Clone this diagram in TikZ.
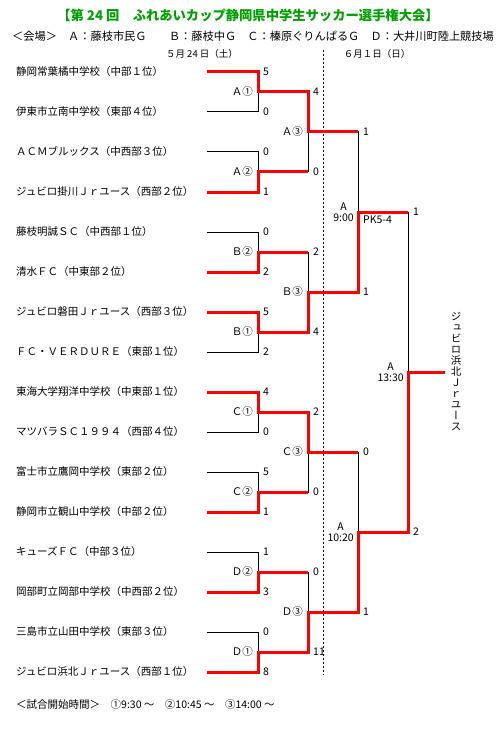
\documentclass[tikz,border=0pt]{standalone}
\usepackage{fontspec}
\setmainfont{Noto Sans CJK JP}
\newfontfamily\jpvert[RawFeature=+vert]{Noto Sans CJK JP}
\usepackage{tikz}
\usetikzlibrary{positioning, calc}
\definecolor{CupGreen}{RGB}{0, 160, 0}
\definecolor{WinRed}{RGB}{255, 0, 0}

\begin{document}
\begin{tikzpicture}[
    x=1pt, y=-1pt,
    every node/.style={font=\fontsize{10.5}{11}\selectfont, inner sep=0pt},
    team/.style={anchor=west},
    match/.style={anchor=east, xshift=-5pt},
    slot/.style={anchor=east, xshift=-4pt, align=center},
    score/.style={anchor=west, xshift=5pt},
    bracket/.style={draw=black, line width=1pt},
    win/.style={draw=WinRed, line width=3pt},
    daysep/.style={draw=black, line width=0.8pt, dash pattern=on 2pt off 2pt}
  ]
    \useasboundingbox (0,0) rectangle (500,730);

    % Header
    \node[font=\fontsize{13.3}{14}\selectfont\bfseries, text=CupGreen] (title) at (248,15) {【第 24 回　ふれあいカップ静岡県中学生サッカー選手権大会】};
    \node[anchor=west, font=\fontsize{11.2}{12}\selectfont] (venue) at (12,36) {＜会場＞　Ａ：藤枝市民Ｇ　　Ｂ：藤枝中Ｇ　Ｃ：榛原ぐりんぱるＧ　Ｄ：大井川町陸上競技場};
    \node[font=\fontsize{9.5}{10}\selectfont] (day1) at (202,54) {５月 24 日（土）};
    \node[font=\fontsize{9.5}{10}\selectfont] (day2) at (377,54) {６月１日（日）};

    % Day separator
    \coordinate (dayTop) at (323,50);
    \coordinate (dayBot) at (323,675);
    \draw[daysep] (dayTop) -- (dayBot);

    % Teams
    \node[team] (t1) at (16,72) {静岡常葉橘中学校（中部１位）};
    \node[team] (t2) at (16,112) {伊東市立南中学校（東部４位）};
    \node[team] (t3) at (16,152) {ＡＣＭブルックス（中西部３位）};
    \node[team] (t4) at (16,192) {ジュビロ掛川Ｊｒユース（西部２位）};
    \node[team] (t5) at (16,232) {藤枝明誠ＳＣ（中西部１位）};
    \node[team] (t6) at (16,272) {清水ＦＣ（中東部２位）};
    \node[team] (t7) at (16,312) {ジュビロ磐田Ｊｒユース（西部３位）};
    \node[team] (t8) at (16,352) {ＦＣ・ＶＥＲＤＵＲＥ（東部１位）};
    \node[team] (t9) at (16,392) {東海大学翔洋中学校（中東部１位）};
    \node[team] (t10) at (16,432) {マツバラＳＣ１９９４（西部４位）};
    \node[team] (t11) at (16,472) {富士市立鷹岡中学校（東部２位）};
    \node[team] (t12) at (16,512) {静岡市立観山中学校（中部２位）};
    \node[team] (t13) at (16,552) {キューズＦＣ（中部３位）};
    \node[team] (t14) at (16,592) {岡部町立岡部中学校（中西部２位）};
    \node[team] (t15) at (16,632) {三島市立山田中学校（東部３位）};
    \node[team] (t16) at (16,672) {ジュビロ浜北Ｊｒユース（西部１位）};

    % Bracket points
    \coordinate (s1) at (207,72);   \coordinate (s2) at (207,112);
    \coordinate (s3) at (207,152);  \coordinate (s4) at (207,192);
    \coordinate (s5) at (207,232);  \coordinate (s6) at (207,272);
    \coordinate (s7) at (207,312);  \coordinate (s8) at (207,352);
    \coordinate (s9) at (207,392);  \coordinate (s10) at (207,432);
    \coordinate (s11) at (207,472); \coordinate (s12) at (207,512);
    \coordinate (s13) at (207,552); \coordinate (s14) at (207,592);
    \coordinate (s15) at (207,632); \coordinate (s16) at (207,672);

    \coordinate (mA1) at (258,92);  \coordinate (mA2) at (258,172);
    \coordinate (mB2) at (258,252); \coordinate (mB1) at (258,332);
    \coordinate (mC1) at (258,412); \coordinate (mC2) at (258,492);
    \coordinate (mD2) at (258,572); \coordinate (mD1) at (258,652);

    \coordinate (mA3) at (308,132); \coordinate (mB3) at (308,292);
    \coordinate (mC3) at (308,452); \coordinate (mD3) at (308,612);

    \coordinate (sf1) at (358,212); \coordinate (sf2) at (358,532);
    \coordinate (fin) at (408,372);
    \coordinate (champ) at (445,372);

    % Bracket lines
    \draw[bracket] (s1) -| (mA1) (s2) -| (mA1) (s3) -| (mA2) (s4) -| (mA2)
                   (s5) -| (mB2) (s6) -| (mB2) (s7) -| (mB1) (s8) -| (mB1)
                   (s9) -| (mC1) (s10) -| (mC1) (s11) -| (mC2) (s12) -| (mC2)
                   (s13) -| (mD2) (s14) -| (mD2) (s15) -| (mD1) (s16) -| (mD1)
                   (mA1) -| (mA3) (mA2) -| (mA3) (mB2) -| (mB3) (mB1) -| (mB3)
                   (mC1) -| (mC3) (mC2) -| (mC3) (mD2) -| (mD3) (mD1) -| (mD3)
                   (mA3) -| (sf1) (mB3) -| (sf1) (mC3) -| (sf2) (mD3) -| (sf2)
                   (sf1) -| (fin) (sf2) -| (fin) (fin) -- (champ);

    % Winners
    \draw[win] (s1) -| (mA1) -- (mA1 -| mA3);
    \draw[win] (s4) -| (mA2) -- (mA2 -| mA3);
    \draw[win] (s6) -| (mB2) -- (mB2 -| mB3);
    \draw[win] (s7) -| (mB1) -- (mB1 -| mB3);
    \draw[win] (s9) -| (mC1) -- (mC1 -| mC3);
    \draw[win] (s12) -| (mC2) -- (mC2 -| mC3);
    \draw[win] (s14) -| (mD2) -- (mD2 -| mD3);
    \draw[win] (s16) -| (mD1) -- (mD1 -| mD3);
    \draw[win] (mA1) -| (mA3) -- (mA3 -| sf1);
    \draw[win] (mB1) -| (mB3) -- (mB3 -| sf1);
    \draw[win] (mC1) -| (mC3) -- (mC3 -| sf2);
    \draw[win] (mD1) -| (mD3) -- (mD3 -| sf2);
    \draw[win] (mB3) -| (sf1) -- (sf1 -| fin);
    \draw[win] (mD3) -| (sf2) -- (sf2 -| fin);
    \draw[win] (sf2) -| (fin) -- (champ);

    % Match labels
    \node[match] (lA1) at (mA1) {Ａ①};
    \node[match] (lA2) at (mA2) {Ａ②};
    \node[match] (lB2) at (mB2) {Ｂ②};
    \node[match] (lB1) at (mB1) {Ｂ①};
    \node[match] (lC1) at (mC1) {Ｃ①};
    \node[match] (lC2) at (mC2) {Ｃ②};
    \node[match] (lD2) at (mD2) {Ｄ②};
    \node[match] (lD1) at (mD1) {Ｄ①};
    \node[match] (lA3) at (mA3) {Ａ③};
    \node[match] (lB3) at (mB3) {Ｂ③};
    \node[match] (lC3) at (mC3) {Ｃ③};
    \node[match] (lD3) at (mD3) {Ｄ③};
    \node[slot] (lsf1) at (sf1) {A\\9:00};
    \node[slot] (lsf2) at (sf2) {A\\10:20};
    \node[slot] (lfin) at (fin) {A\\13:30};
    \node[anchor=west] (pk) at ([xshift=5pt, yshift=-8pt]sf1) {PK5-4};

    % Scores
    \node[score] (c1) at (s1 -| mA1) {5};
    \node[score] (c2) at (s2 -| mA1) {0};
    \node[score] (c3) at (s3 -| mA2) {0};
    \node[score] (c4) at (s4 -| mA2) {1};
    \node[score] (c5) at (s5 -| mB2) {0};
    \node[score] (c6) at (s6 -| mB2) {2};
    \node[score] (c7) at (s7 -| mB1) {5};
    \node[score] (c8) at (s8 -| mB1) {2};
    \node[score] (c9) at (s9 -| mC1) {4};
    \node[score] (c10) at (s10 -| mC1) {0};
    \node[score] (c11) at (s11 -| mC2) {5};
    \node[score] (c12) at (s12 -| mC2) {1};
    \node[score] (c13) at (s13 -| mD2) {1};
    \node[score] (c14) at (s14 -| mD2) {3};
    \node[score] (c15) at (s15 -| mD1) {0};
    \node[score] (c16) at (s16 -| mD1) {8};
    \node[score] (cA1) at (mA1 -| mA3) {4};
    \node[score] (cA2) at (mA2 -| mA3) {0};
    \node[score] (cB2) at (mB2 -| mB3) {2};
    \node[score] (cB1) at (mB1 -| mB3) {4};
    \node[score] (cC1) at (mC1 -| mC3) {2};
    \node[score] (cC2) at (mC2 -| mC3) {0};
    \node[score] (cD2) at (mD2 -| mD3) {0};
    \node[score] (cD1) at (mD1 -| mD3) {11};
    \node[score] (cA3) at (mA3 -| sf1) {1};
    \node[score] (cB3) at (mB3 -| sf1) {1};
    \node[score] (cC3) at (mC3 -| sf2) {0};
    \node[score] (cD3) at (mD3 -| sf2) {1};
    \node[score] (csf1) at (sf1 -| fin) {1};
    \node[score] (csf2) at (sf2 -| fin) {2};

    % Champion
    \node[align=center, font={\jpvert\fontsize{10.5}{11}\selectfont}] (champname) at (456,371) {ジ\\ュ\\ビ\\ロ\\浜\\北\\Ｊ\\ｒ\\ユ\\ー\\ス};

    % Kick-off times
    \node[anchor=west] (times) at (16,705) {＜試合開始時間＞　①9:30 ～　②10:45 ～　③14:00 ～};
  \end{tikzpicture}
\end{document}
